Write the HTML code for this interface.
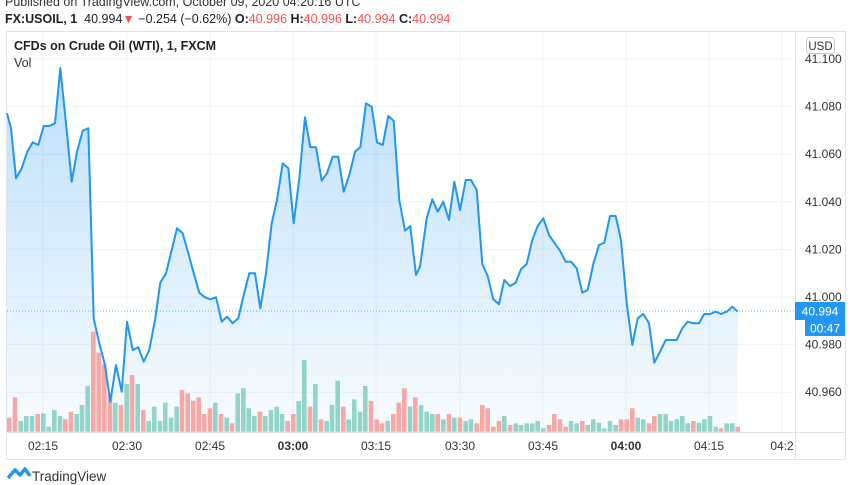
<!DOCTYPE html>
<html><head><meta charset="utf-8"><style>
body{margin:0;width:852px;height:485px;background:#fff;font-family:"Liberation Sans",sans-serif;overflow:hidden;position:relative}
.t{position:absolute;white-space:nowrap}
</style></head><body>
<div class="t" style="left:5px;top:-5px;font-size:12.5px;color:#333">Published on TradingView.com, October 09, 2020 04:20:16 UTC</div>
<div class="t" style="left:5px;top:12px;font-size:12.5px;color:#222"><b>FX:USOIL, 1</b>&nbsp; 40.994<span style="color:#ef5350">▼</span> −0.254 (−0.62%) <b>O:</b><span style="color:#ef5350">40.996</span> <b>H:</b><span style="color:#ef5350">40.996</span> <b>L:</b><span style="color:#ef5350">40.994</span> <b>C:</b><span style="color:#ef5350">40.994</span></div>
<svg id="s" width="852" height="485" style="position:absolute;left:0;top:0"></svg>
<div class="t" style="left:14px;top:39px;font-size:12.5px;color:#222;font-weight:bold">CFDs on Crude Oil (WTI), 1, FXCM</div>
<div class="t" style="left:14px;top:56px;font-size:12.5px;color:#333">Vol</div>
<script>
const NS="http://www.w3.org/2000/svg";const s=document.getElementById('s');
function el(t,a,txt){const e=document.createElementNS(NS,t);for(const k in a)e.setAttribute(k,a[k]);if(txt)e.textContent=txt;s.appendChild(e);return e;}
let h='<defs><linearGradient id="g" x1="0" y1="0" x2="0" y2="1"><stop offset="0" stop-color="#2196f3" stop-opacity="0.3"/><stop offset="1" stop-color="#2196f3" stop-opacity="0.03"/></linearGradient></defs>';
s.innerHTML=h;
el('rect',{x:6.5,y:31.5,width:839,height:428,fill:'none',stroke:'#e0e3eb'});
el('line',{x1:795.5,y1:31,x2:795.5,y2:459,stroke:'#e0e3eb'});
el('line',{x1:6,y1:432.5,x2:846,y2:432.5,stroke:'#e0e3eb'});
const py=p=>297-(p-41)/0.02*47.6;
[41.1,41.08,41.06,41.04,41.02,41,40.98,40.96].forEach(p=>{const y=py(p);el('line',{x1:7,y1:y,x2:795,y2:y,stroke:'#f0f3fa'});el('text',{x:805,y:y+4,'font-size':12,fill:'#333','font-family':'Liberation Sans'},p.toFixed(3));});
const tx=[[43,'02:15'],[127,'02:30'],[210,'02:45'],[293,'03:00'],[376,'03:15'],[460,'03:30'],[543,'03:45'],[626,'04:00'],[709,'04:15'],[782,'04:2']];
tx.forEach(([x,l])=>{el('line',{x1:x,y1:32,x2:x,y2:432,stroke:'#f0f3fa'});el('text',{x:x,y:450,'font-size':12,fill:'#333','text-anchor':'middle','font-family':'Liberation Sans','font-weight':(l=='03:00'||l=='04:00')?'bold':'normal'},l);});
el('rect',{x:806.5,y:37.5,width:28,height:16,rx:3,fill:'#fff',stroke:'#ccc'});
el('text',{x:820.5,y:50,'font-size':11.5,fill:'#333','text-anchor':'middle','font-family':'Liberation Sans'},'USD');
const A=[[20,160],[33,205],[48,355],[65,325],[82,275],[98,247],[115,255],[131,198],[148,198],[165,190],[181,25],[198,190],[215,365],[231,275],[248,212],[265,205],[281,775],[298,850],[315,915],[331,1025],[348,915],[365,995],[381,785],[398,870],[415,862],[431,905],[448,870],[465,780],[481,668],[498,640],[515,570],[531,505],[548,520],[565,580],[581,640],[598,698],[615,712],[631,718],[648,712],[665,785],[681,770],[698,790],[715,775],[731,705],[748,640],[765,640],[781,745],[798,640],[815,490],[831,420],[848,310],[865,325],[881,490],[898,355],[915,172],[931,262],[948,262],[965,362],[981,340],[998,290],[1015,290],[1031,395],[1048,345],[1065,275],[1081,262],[1098,130],[1115,140],[1131,247],[1148,255],[1165,168],[1181,182],[1198,420],[1215,512],[1231,498],[1248,645]];
const B=[[0,620],[20,475],[37,418],[53,455],[70,425],[87,480],[103,365],[120,450],[137,360],[153,360],[170,390],[187,612],[203,648],[220,718],[237,733],[253,660],[270,678],[287,668],[303,628],[320,612],[337,540],[353,498],[370,475],[387,525],[403,548],[420,572],[437,605],[453,605],[470,625],[487,698],[503,690],[520,612],[537,555],[553,548],[570,468],[587,468],[603,540],[620,730],[637,855],[653,775],[670,762],[687,790],[703,908],[720,875],[737,840],[753,840],[770,840],[787,805],[803,785],[820,790],[837,790],[853,762],[870,762],[887,755],[903,762],[920,755],[937,740],[953,755]];
const P=A.map(([X,Y])=>[X/3,60+Y/3]).concat(B.map(([X,Y])=>[420+X/3,60+Y/3]));
P[0][0]=7;
const d=P.map((p,i)=>(i?'L':'M')+p[0].toFixed(1)+' '+p[1].toFixed(1)).join('');
el('path',{d:d+'L'+P[P.length-1][0]+' 432L7 432Z',fill:'url(#g)'});
const VA=[[28,1073,'r'],[45,1012,'r'],[62,1083,'g'],[79,1068,'g'],[96,1068,'g'],[113,1062,'r'],[130,1060,'g'],[146,1100,'g'],[163,1050,'g'],[180,1068,'g'],[196,1078,'r'],[213,1055,'r'],[230,1062,'g'],[246,1035,'g'],[263,978,'g'],[280,815,'r'],[296,878,'r'],[313,912,'r'],[330,1000,'r'],[346,1028,'g'],[363,1035,'r'],[380,972,'g'],[396,945,'r'],[413,972,'g'],[430,1050,'r'],[446,1083,'g'],[463,1040,'g'],[480,1083,'g'],[496,1028,'g'],[513,1073,'g'],[530,1040,'g'],[546,990,'r'],[563,1000,'r'],[580,1022,'r'],[596,1012,'r'],[613,1062,'r'],[630,1045,'r'],[646,1028,'g'],[663,1062,'r'],[680,1073,'g'],[696,1090,'r'],[713,1000,'g'],[730,985,'g'],[746,1045,'g'],[763,1068,'g'],[780,1055,'r'],[796,1068,'g'],[813,1050,'g'],[830,1040,'g'],[846,1062,'g'],[863,1083,'r'],[880,1062,'r'],[896,1023,'g'],[913,900,'g'],[930,1040,'r'],[946,972,'g'],[963,1078,'r'],[980,1083,'g'],[996,1035,'g'],[1013,962,'g'],[1030,1040,'r'],[1046,1078,'g'],[1063,1018,'g'],[1080,1055,'g'],[1096,978,'g'],[1113,1023,'r'],[1130,1078,'r'],[1146,1090,'r'],[1163,1083,'g'],[1180,1062,'r'],[1196,1028,'r'],[1213,985,'r'],[1230,1040,'g'],[1246,1012,'r']];
const VB=[[3,1035,'g'],[20,1055,'g'],[37,1062,'g'],[53,1062,'r'],[70,1078,'g'],[87,1062,'r'],[103,1073,'g'],[120,1073,'r'],[137,1083,'g'],[153,1078,'g'],[170,1090,'r'],[187,1035,'r'],[203,1045,'r'],[220,1100,'r'],[237,1083,'r'],[253,1068,'g'],[270,1095,'r'],[287,1090,'g'],[303,1095,'g'],[320,1090,'g'],[337,1090,'g'],[353,1083,'g'],[370,1105,'g'],[387,1095,'r'],[403,1062,'r'],[420,1078,'r'],[437,1100,'r'],[453,1083,'g'],[470,1090,'g'],[487,1083,'r'],[503,1095,'g'],[520,1078,'g'],[537,1088,'g'],[553,1105,'g'],[570,1083,'g'],[587,1095,'g'],[603,1078,'r'],[620,1078,'r'],[637,1045,'r'],[653,1073,'g'],[670,1078,'g'],[687,1090,'r'],[703,1068,'r'],[720,1062,'g'],[737,1062,'g'],[753,1083,'g'],[770,1078,'g'],[787,1068,'g'],[803,1090,'g'],[820,1083,'r'],[837,1088,'g'],[853,1078,'g'],[870,1068,'g'],[887,1100,'g'],[903,1105,'r'],[920,1090,'g'],[937,1090,'g'],[953,1100,'r']];
const V=VA.map(([X,Y,c])=>[X/3,60+Y/3,c]).concat(VB.map(([X,Y,c])=>[420+X/3,60+Y/3,c]));
V.forEach(([x,y,c])=>el('rect',{x:(x-2.3).toFixed(1),y:y.toFixed(1),width:4.6,height:(431.7-y).toFixed(1),fill:c=='g'?'#93d4c9':'#f6a8a6'}));
el('path',{d:d,fill:'none',stroke:'#2196f3','stroke-width':2,'stroke-linejoin':'round'});
el('line',{x1:7,y1:311,x2:795,y2:311,stroke:'#2196f3','stroke-dasharray':'1 2','stroke-opacity':0.7});
el('rect',{x:795,y:302,width:50,height:18,fill:'#2196f3'});
el('text',{x:820,y:315.5,'font-size':12,fill:'#fff','text-anchor':'middle','font-family':'Liberation Sans'},'40.994');
el('rect',{x:805,y:320,width:40,height:16,fill:'#2196f3'});
el('text',{x:825,y:332.5,'font-size':12,fill:'#fff','text-anchor':'middle','font-family':'Liberation Sans'},'00:47');
el('path',{d:'M8 478 L15 470 L20 475 L25 469 L30 476',fill:'none',stroke:'#2196f3','stroke-width':3.5,'stroke-linejoin':'round'});
el('text',{x:32,y:481,'font-size':13.5,fill:'#333','font-family':'Liberation Sans'},'TradingView');
</script>
</body></html>
